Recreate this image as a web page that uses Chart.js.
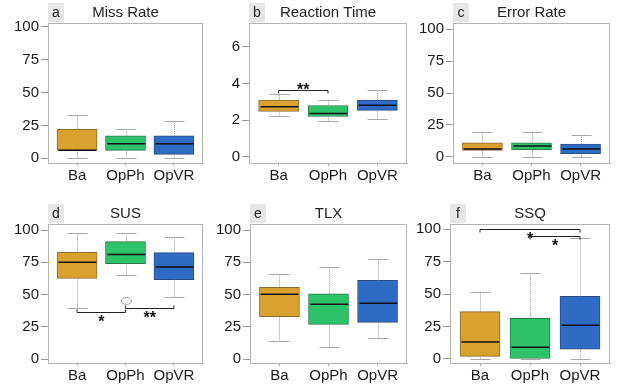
<!DOCTYPE html>
<html>
<head>
<meta charset="utf-8">
<script src="https://cdn.jsdelivr.net/npm/chart.js@4"></script>
<style>
  body { margin: 0; background: #fff; }
  #wrap { position: relative; width: 623px; height: 389px; }
  #wrap canvas { position: absolute; }
</style>
</head>
<body>
<div id="wrap"></div>
<script>
// categories shared by all panels
var cats = ['Ba', 'OpPh', 'OpVR'];
var percentTicks = [0, 25, 50, 75, 100];
var rtTicks = [0, 2, 4, 6];

// a - Miss Rate
var missMin = [0, 0, 0];
var missQ1  = [6, 6, 3];
var missMed = [6, 11, 11];
var missQ3  = [22, 17, 17];
var missMax = [33, 22, 28];

// b - Reaction Time
var rtMin = [2.24, 1.93, 2.04];
var rtQ1  = [2.48, 2.2, 2.53];
var rtMed = [2.73, 2.37, 2.82];
var rtQ3  = [3.09, 2.8, 3.09];
var rtMax = [3.4, 3.11, 3.62];
var rtSig = [{ from: 0, to: 1, y: 3.67, text: '**' }];

// c - Error Rate
var errMin = [0, 0, 0];
var errQ1  = [5, 5.5, 2.5];
var errMed = [6, 8.4, 6];
var errQ3  = [11, 11, 10];
var errMax = [19.6, 19.6, 16.8];

// d - SUS
var susMin = [39.8, 65, 47.8];
var susQ1  = [62.5, 73.9, 61.5];
var susMed = [75, 81, 71.3];
var susQ3  = [82.7, 91, 82.5];
var susMax = [97.4, 97.5, 94.8];
var susOut = [[], [45], []];
var susSig = [{ from: 0, to: 1, y: 36.7, text: '*' }, { from: 1, to: 2, y: 39.3, text: '**' }];

// e - TLX
var tlxMin = [14.2, 9, 16.5];
var tlxQ1  = [32.8, 26.9, 28.4];
var tlxMed = [50.2, 42.4, 43.2];
var tlxQ3  = [55.6, 50.6, 61];
var tlxMax = [65.7, 71, 77.3];

// f - SSQ
var ssqMin = [0, 0, 0];
var ssqQ1  = [2, 0, 7.5];
var ssqMed = [13.1, 9, 26];
var ssqQ3  = [36.5, 31.4, 48.3];
var ssqMax = [51.9, 66.5, 93];
var ssqSig = [{ from: 0, to: 2, y: 100.2, text: '*' }, { from: 1, to: 2, y: 95.1, text: '*' }];

var FONT = 'Liberation Sans, Arial, Helvetica, sans-serif';
var fills = ['#D9A12E', '#2EC26B', '#2F6AC3'];
var edges = ['#8a6a2e', '#2a7a4c', '#2a4c86'];

var panels = [
  { tag: 'a', title: 'Miss Rate', min: -3.6, max: 102.8, ticks: percentTicks,
    lo: missMin, q1: missQ1, med: missMed, q3: missQ3, hi: missMax,
    c: [0, 0, 207, 195], f: [48, 203, 23, 163] },
  { tag: 'b', title: 'Reaction Time', min: -0.33, max: 7.29, ticks: rtTicks,
    lo: rtMin, q1: rtQ1, med: rtMed, q3: rtQ3, hi: rtMax, sig: rtSig, tickDir: 1, textSide: -1,
    c: [207, 0, 205, 195], f: [249, 407, 23, 163] },
  { tag: 'c', title: 'Error Rate', min: -4.9, max: 104.9, ticks: percentTicks,
    lo: errMin, q1: errQ1, med: errMed, q3: errQ3, hi: errMax,
    c: [412, 0, 211, 195], f: [453, 610, 23, 163] },
  { tag: 'd', title: 'SUS', min: -3.1, max: 104.7, ticks: percentTicks,
    lo: susMin, q1: susQ1, med: susMed, q3: susQ3, hi: susMax, out: susOut, sig: susSig, tickDir: -1, textSide: 1,
    c: [0, 195, 207, 194], f: [48, 203, 224, 363] },
  { tag: 'e', title: 'TLX', min: -3.1, max: 104.7, ticks: percentTicks,
    lo: tlxMin, q1: tlxQ1, med: tlxMed, q3: tlxQ3, hi: tlxMax,
    c: [207, 195, 207, 194], f: [250, 407, 224, 363] },
  { tag: 'f', title: 'SSQ', min: -3.1, max: 104.1, ticks: percentTicks,
    lo: ssqMin, q1: ssqQ1, med: ssqMed, q3: ssqQ3, hi: ssqMax, sig: ssqSig, tickDir: 1, textSide: 1,
    c: [414, 195, 209, 194], f: [450, 610, 224, 363] }
];

// whiskers, medians, outliers, brackets, frame, title tab
var boxPlugin = {
  id: 'boxExtras',
  afterDatasetsDraw: function (chart) {
    var p = chart.options.plugins.boxExtras.panel;
    var ctx = chart.ctx, xs = chart.scales.x, ys = chart.scales.y;
    var bars = chart.getDatasetMeta(0).data;
    ctx.save();
    for (var i = 0; i < cats.length; i++) {
      var x = Math.round(xs.getPixelForValue(i + 1)) + 0.5;
      var w = bars[i].width;
      // whiskers
      ctx.strokeStyle = '#9a9a9a';
      ctx.lineWidth = 1;
      ctx.setLineDash([1, 1]);
      ctx.beginPath();
      ctx.moveTo(x, ys.getPixelForValue(p.q3[i]));
      ctx.lineTo(x, ys.getPixelForValue(p.hi[i]));
      ctx.moveTo(x, ys.getPixelForValue(p.q1[i]));
      ctx.lineTo(x, ys.getPixelForValue(p.lo[i]));
      ctx.stroke();
      ctx.setLineDash([]);
      ctx.strokeStyle = '#a8a8a8';
      ctx.beginPath();
      [p.hi[i], p.lo[i]].forEach(function (v) {
        var y = Math.round(ys.getPixelForValue(v)) + 0.5;
        ctx.moveTo(x - w / 4, y);
        ctx.lineTo(x + w / 4, y);
      });
      ctx.stroke();
      // median
      ctx.strokeStyle = '#111';
      ctx.lineWidth = 1.5;
      var ym = ys.getPixelForValue(p.med[i]);
      ctx.beginPath();
      ctx.moveTo(x - w / 2 + 1, ym);
      ctx.lineTo(x + w / 2 - 1, ym);
      ctx.stroke();
      // outliers
      if (p.out) {
        ctx.strokeStyle = '#9a9a9a';
        ctx.lineWidth = 1;
        p.out[i].forEach(function (v) {
          ctx.beginPath();
          ctx.ellipse(x, ys.getPixelForValue(v), 5, 3.5, 0, 0, Math.PI * 2);
          ctx.stroke();
        });
      }
    }
    // significance brackets
    if (p.sig) {
      ctx.strokeStyle = '#222';
      ctx.fillStyle = '#111';
      ctx.lineWidth = 1;
      ctx.font = 'bold 16px ' + FONT;
      ctx.textAlign = 'center';
      ctx.textBaseline = 'alphabetic';
      p.sig.forEach(function (s) {
        var x1 = xs.getPixelForValue(s.from + 1), x2 = xs.getPixelForValue(s.to + 1);
        var y = Math.round(ys.getPixelForValue(s.y)) + 0.5;
        ctx.beginPath();
        ctx.moveTo(x1, y + 3 * p.tickDir);
        ctx.lineTo(x1, y);
        ctx.lineTo(x2, y);
        ctx.lineTo(x2, y + 3 * p.tickDir);
        ctx.stroke();
        var yc = y + 5 * p.textSide;
        ctx.fillText(s.text, (x1 + x2) / 2, yc + 9);
      });
    }
    ctx.restore();
  },
  afterDraw: function (chart) {
    var p = chart.options.plugins.boxExtras.panel;
    var ctx = chart.ctx, a = chart.chartArea;
    ctx.save();
    ctx.strokeStyle = '#b4b4b4';
    ctx.lineWidth = 1;
    ctx.strokeRect(Math.round(a.left) + 0.5, Math.round(a.top) + 0.5,
      Math.round(a.right - a.left) - 1, Math.round(a.bottom - a.top));
    ctx.fillStyle = '#e6e6e6';
    ctx.fillRect(a.left, a.top - 20, 16, 19);
    ctx.fillStyle = '#222';
    ctx.font = '14px ' + FONT;
    ctx.textAlign = 'center';
    ctx.textBaseline = 'middle';
    ctx.fillText(p.tag, a.left + 8, a.top - 10);
    ctx.font = '15px ' + FONT;
    ctx.fillText(p.title, (a.left + a.right) / 2, a.top - 10);
    ctx.restore();
  }
};

var wrap = document.getElementById('wrap');
panels.forEach(function (p) {
  var cv = document.createElement('canvas');
  cv.width = p.c[2];
  cv.height = p.c[3];
  cv.style.left = p.c[0] + 'px';
  cv.style.top = p.c[1] + 'px';
  wrap.appendChild(cv);

  new Chart(cv, {
    type: 'bar',
    data: {
      datasets: [{
        data: cats.map(function (c, i) { return { x: i + 1, y: [p.q1[i], p.q3[i]] }; }),
        backgroundColor: fills,
        borderColor: edges,
        borderWidth: 1,
        borderSkipped: false,
        barThickness: 40
      }]
    },
    options: {
      responsive: false,
      animation: false,
      layout: { padding: { left: 0, top: p.f[2] - p.c[1], right: p.c[0] + p.c[2] - p.f[1], bottom: 0 } },
      plugins: { legend: { display: false }, tooltip: { enabled: false }, boxExtras: { panel: p } },
      scales: {
        x: {
          type: 'linear', min: 0.4, max: 3.6, offset: false,
          afterBuildTicks: function (s) { s.ticks = [1, 2, 3].map(function (v) { return { value: v }; }); },
          afterFit: function (s) { s.height = p.c[1] + p.c[3] - p.f[3]; },
          ticks: { callback: function (v) { return cats[v - 1]; }, font: { family: FONT, size: 15 }, color: '#1a1a1a', padding: 1, maxRotation: 0, autoSkip: false },
          grid: { drawOnChartArea: false, offset: false, tickLength: 3, color: '#aaa' },
          border: { color: '#b4b4b4' }
        },
        y: {
          min: p.min, max: p.max,
          afterBuildTicks: function (s) { s.ticks = p.ticks.map(function (v) { return { value: v }; }); },
          afterFit: function (s) { s.width = p.f[0] - p.c[0]; },
          ticks: { font: { family: FONT, size: 15 }, color: '#1a1a1a', padding: 2 },
          grid: { drawOnChartArea: false, tickLength: 7, color: '#999' },
          border: { color: '#b4b4b4' }
        }
      }
    },
    plugins: [boxPlugin]
  });
});
</script>
</body>
</html>
